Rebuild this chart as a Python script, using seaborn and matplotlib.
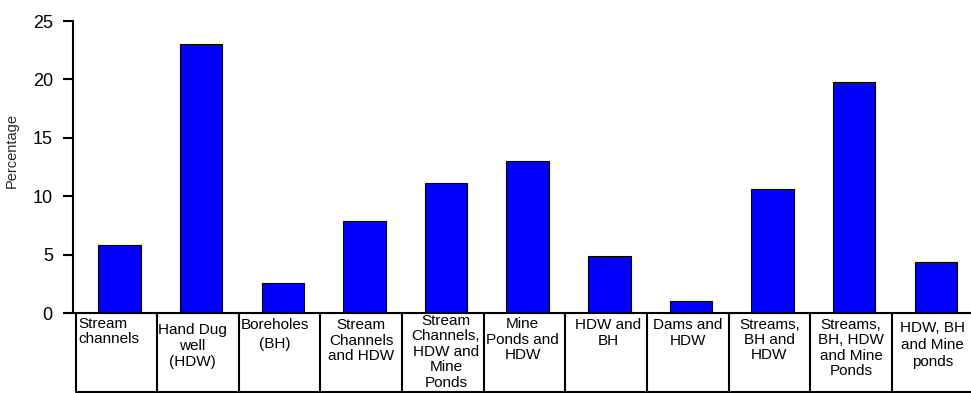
import matplotlib
matplotlib.use("Agg")
import matplotlib.pyplot as plt
import seaborn as sns
import pandas as pd

# Water source categories (line breaks as printed in the label table)
categories = [
    "Stream\nchannels",
    "Hand Dug\nwell\n(HDW)",
    "Boreholes\n(BH)",
    "Stream\nChannels\nand HDW",
    "Stream\nChannels,\nHDW and\nMine\nPonds",
    "Mine\nPonds and\nHDW",
    "HDW and\nBH",
    "Dams and\nHDW",
    "Streams,\nBH and\nHDW",
    "Streams,\nBH, HDW\nand Mine\nPonds",
    "HDW, BH\nand Mine\nponds",
]
percentages = [5.8, 23.0, 2.6, 7.9, 11.1, 13.0, 4.9, 1.0, 10.6, 19.8, 4.4]
y_ticks = [0, 5, 10, 15, 20, 25]
y_label = "Percentage"

df = pd.DataFrame({"source": categories, "pct": percentages})

sns.set_style("white")
plt.rcParams["font.family"] = ["Liberation Sans", "DejaVu Sans"]

W, H = 971, 393
fig = plt.figure(figsize=(W / 100, H / 100), dpi=100)

# Main bar axes (pixel-based placement)
ax_left, ax_zero, ax_top = 73, 313, 21
ax = fig.add_axes([ax_left / W, (H - ax_zero) / H, (W - ax_left) / W, (ax_zero - ax_top) / H])
sns.barplot(data=df, x="source", y="pct", ax=ax, color="#0000FF", saturation=1,
            edgecolor="black", linewidth=0.8, width=0.52)
ax.set_xlim(-0.57, len(categories) - 0.57)
ax.set_ylim(0, 25)
ax.set_yticks(y_ticks)
ax.set_yticklabels([str(t) for t in y_ticks], fontsize=13)
ax.tick_params(axis="y", direction="out", length=7, width=1.5, pad=7.5, left=True, colors="black")
ax.tick_params(axis="x", bottom=False, labelbottom=False)
ax.set_xlabel("")
ax.set_ylabel(y_label, fontsize=10.5)
ax.yaxis.set_label_coords((19 - ax_left) / (W - ax_left), (ax_zero - 150) / (ax_zero - ax_top))
for side in ("top", "right"):
    ax.spines[side].set_visible(False)
for side in ("left", "bottom"):
    ax.spines[side].set_linewidth(1.5)
    ax.spines[side].set_color("black")
ax.grid(False)

# Label table beneath the bars: one boxed cell per category
slot = (W - ax_left) / len(categories)
tab_left, tab_bottom = 75.5, 392
tab = fig.add_axes([tab_left / W, (H - tab_bottom) / H, slot * len(categories) / W,
                    (tab_bottom - ax_zero) / H])
tab.set_xlim(0, len(categories))
tab.set_ylim(tab_bottom - ax_zero, 0)
tab.axis("off")

for k in range(len(categories) + 1):
    tab.plot([k, k], [0, tab_bottom - ax_zero], color="black", lw=1.5,
             clip_on=False, zorder=3, solid_capstyle="butt")
tab.plot([0, len(categories)], [tab_bottom - ax_zero - 0.5] * 2, color="black", lw=1.5,
         clip_on=False, zorder=3)

# (horizontal alignment, x shift in px, top offset in px, line spacing)
cell_layout = [
    ("left", 3, 3.5, 1.12),
    ("center", -6, 10, 1.2),
    ("center", -5, 5, 1.45),
    ("center", 0, 5, 1.14),
    ("center", 3, 1, 1.13),
    ("center", -2, 4, 1.15),
    ("center", 2, 5, 1.18),
    ("center", 0, 5, 1.14),
    ("center", 0, 5, 1.1),
    ("center", 0, 5, 1.12),
    ("center", 0, 8.5, 1.25),
]
for i, (label, (ha, dx, top, ls)) in enumerate(zip(df["source"], cell_layout)):
    x = i + (0 if ha == "left" else 0.5) + dx / slot
    tab.text(x, top, label, ha=ha, va="top", multialignment=ha, fontsize=11,
             linespacing=ls, color="black", zorder=2)

fig.savefig("out.png", dpi=100)
